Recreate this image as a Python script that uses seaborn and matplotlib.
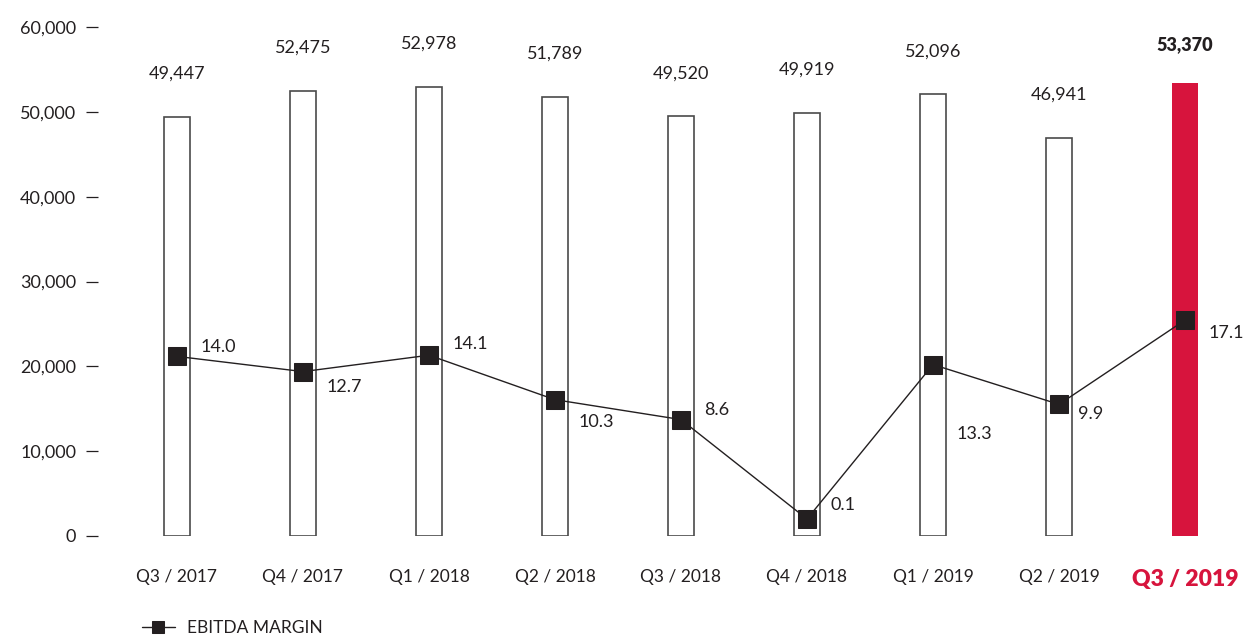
import numpy as np
import pandas as pd
import matplotlib
matplotlib.use("Agg")
import matplotlib.pyplot as plt
import seaborn as sns

quarters = ["Q3/2017", "Q4/2017", "Q1/2018", "Q2/2018", "Q3/2018",
            "Q4/2018", "Q1/2019", "Q2/2019", "Q3/2019"]
tick_labels = ["Q3 / 2017", "Q4 / 2017", "Q1 / 2018", "Q2 / 2018", "Q3 / 2018",
               "Q4 / 2018", "Q1 / 2019", "Q2 / 2019", "Q3 / 2019"]
revenue = [49447, 52475, 52978, 51789, 49520, 49919, 52096, 46941, 53370]
ebitda_margin = [14.0, 12.7, 14.1, 10.3, 8.6, 0.1, 13.3, 9.9, 17.1]
legend_label = "EBITDA MARGIN"

# label offsets (points) for margin labels
margin_offsets = [(17, 7), (17, -11), (17, 8), (17, -16), (17, 7),
                  (17, 10), (17, -50), (14, -7), (17, -9)]

sns.set_theme(style="white")
plt.rcParams["font.family"] = ["Lato", "DejaVu Sans"]

DARK = "#231f20"
RED = "#d7143d"

W, H = 1245, 635
fig = plt.figure(figsize=(W / 100, H / 100), dpi=100)
left, right = 98 / W, 1.0
bottom, top = (H - 536) / H, (H - 27) / H
ax = fig.add_axes([left, bottom, right - left, top - bottom])

df = pd.DataFrame({"quarter": quarters, "revenue": revenue})
colors = ["white"] * (len(quarters) - 1) + [RED]
sns.barplot(data=df, x="quarter", y="revenue", hue="quarter", palette=colors,
            legend=False, width=0.206, ax=ax, saturation=1)
for i, p in enumerate(ax.patches):
    if i == len(quarters) - 1:
        p.set_edgecolor(RED)
        p.set_linewidth(0)
    else:
        p.set_edgecolor("#4a4a4a")
        p.set_linewidth(1.2)

ax.set_xlim(-(177 - 98) / 126, (1245 - 177) / 126)
ax.set_ylim(0, 60000)
ax.set_yticks(range(0, 60001, 10000))
ax.set_yticklabels([f"{v:,}" for v in range(0, 60001, 10000)])
for s in ax.spines.values():
    s.set_visible(False)
ax.tick_params(axis="y", which="both", left=True, length=8.6, width=0.9,
               color=DARK, pad=7, labelsize=13, labelcolor=DARK)
ax.tick_params(axis="x", bottom=False, pad=18, labelsize=12.5, labelcolor=DARK)
ax.set_xticks(range(len(quarters)))
ax.set_xticklabels(tick_labels)
xt = ax.get_xticklabels()
xt[-1].set_color(RED)
xt[-1].set_fontweight("heavy")
xt[-1].set_fontsize(16.5)
ax.set_xlabel("")
ax.set_ylabel("")

# bar value labels
for i, v in enumerate(revenue):
    last = i == len(revenue) - 1
    ax.annotate(f"{v:,}", (i, v), xytext=(0, 22 if last else 25),
                textcoords="offset points", ha="center", va="bottom",
                fontsize=13, color=DARK,
                fontweight="heavy" if last else "normal")

# EBITDA margin line on a hidden twin axis
ax2 = ax.twinx()
ax2.set_ylim(-1.35, 42.15)
xs = np.arange(len(quarters))
sns.lineplot(x=xs, y=ebitda_margin, ax=ax2, color=DARK, linewidth=1.0,
             marker="s", markersize=13, markeredgecolor=DARK,
             markerfacecolor=DARK, label=legend_label, legend=False)
for ln in ax2.lines:
    ln.set_clip_on(False)
ax2.set_axis_off()
ax2.set_xlim(ax.get_xlim())
for i, m in enumerate(ebitda_margin):
    dx, dy = margin_offsets[i]
    ax2.annotate(f"{m:.1f}", (i, m), xytext=(dx, dy), textcoords="offset points",
                 ha="left", va="center", fontsize=13, color=DARK,
                 annotation_clip=False)

handles, labels = ax2.get_legend_handles_labels()
leg = fig.legend(handles, labels, loc="center left",
                 bbox_to_anchor=(133 / W, (H - 628) / H), frameon=False,
                 handlelength=1.9, handletextpad=0.7, fontsize=12.5,
                 markerscale=0.62, borderpad=0)
for t in leg.get_texts():
    t.set_color(DARK)

fig.savefig("out.png", dpi=100)
